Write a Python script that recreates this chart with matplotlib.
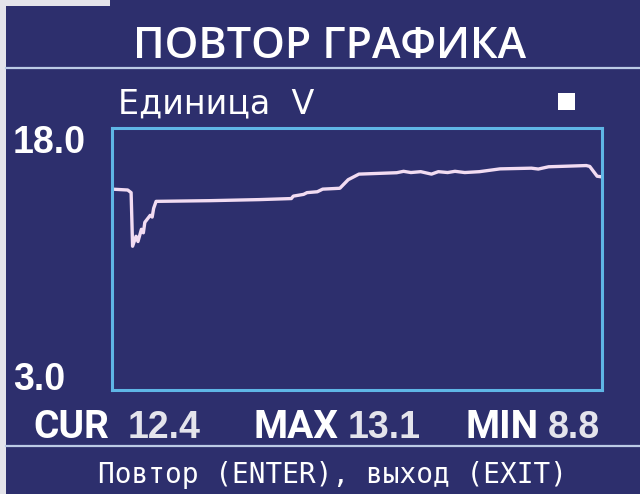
import matplotlib
matplotlib.use("Agg")
import matplotlib.pyplot as plt
from matplotlib.patches import Rectangle

# screen readout
title = "ПОВТОР ГРАФИКА"
unit_label = "Единица  V"
y_max_label = "18.0"
y_min_label = "3.0"
stat_names = ["CUR", "MAX", "MIN"]
stat_values = ["12.4", "13.1", "8.8"]
footer = "Повтор (ENTER), выход (EXIT)"

# recorded trace (position in % of record, volts as drawn)
t = [0, 3.2, 3.9, 4.2, 4.9, 5.3, 6.0, 6.4, 6.7, 7.8, 8.2, 8.5, 9.0,
     20, 30, 36.6, 37.0, 39.1, 39.8, 41.9, 43.0, 46.5, 48.2, 49.3, 50.4,
     58.1, 59.5, 61, 63, 65.2, 66.6, 68.5, 70, 72, 75.0, 79.2, 85.6, 87,
     89.1, 96.8, 97.5, 99.0, 100]
v = [14.50, 14.45, 14.30, 11.23, 11.8, 11.5, 12.2, 12.0, 12.6, 13.0, 12.9,
     13.4, 13.8, 13.84, 13.9, 13.96, 14.1, 14.2, 14.3, 14.35, 14.5, 14.55,
     15.04, 15.2, 15.36, 15.44, 15.52, 15.45, 15.5, 15.36, 15.5, 15.45,
     15.52, 15.45, 15.5, 15.66, 15.70, 15.65, 15.78, 15.85, 15.8, 15.24,
     15.2]

bg = "#2d2f6d"
frame = "#5fb6e6"
trace = "#f2dcf2"
W, H = 640, 494


def fy(py):
    return 1 - py / H


fig = plt.figure(figsize=(6.4, 4.94), dpi=100)
fig.patch.set_facecolor(bg)

# photo edge (light border top-left / left)
fig.add_artist(Rectangle((0, fy(6)), 110 / W, 6 / H, transform=fig.transFigure,
                         color="#e4e4ea", lw=0))
fig.add_artist(Rectangle((0, 0), 6 / W, 1, transform=fig.transFigure,
                         color="#e4e4ea", lw=0))

# separators
fig.add_artist(plt.Line2D([6 / W, 1], [fy(68)] * 2, color="#bccbe6", lw=1.6))
fig.add_artist(plt.Line2D([6 / W, 1], [fy(446)] * 2, color="#bccbe6", lw=1.6))

fig.text(0.515, fy(58), title, ha="center", va="baseline", color="white",
         fontsize=31, family="Open Sans", fontweight="semibold")
fig.text(118 / W, fy(113), unit_label, ha="left", va="baseline", color="white",
         fontsize=24, family="DejaVu Sans")
fig.add_artist(Rectangle((558 / W, fy(110)), 17 / W, 17 / H,
                         transform=fig.transFigure, color="white", lw=0))
fig.text(13 / W, fy(153), y_max_label, ha="left", va="baseline", color="white",
         fontsize=27, family="Liberation Sans", fontweight="bold")
fig.text(13 / W, fy(390), y_min_label, ha="left", va="baseline", color="white",
         fontsize=27, family="Liberation Sans", fontweight="bold")

name_x = [33, 253, 466]
val_x = [128, 348, 548]
for nx, vx, n, s in zip(name_x, val_x, stat_names, stat_values):
    fig.text(nx / W, fy(438), n, ha="left", va="baseline", color="white",
             fontsize=28, family="Roboto", fontweight="bold")
    fig.text(vx / W, fy(438), s, ha="left", va="baseline", color="#e4e4ec",
             fontsize=27, family="Liberation Sans", fontweight="bold")

fig.text(332 / W, fy(483), footer, ha="center", va="baseline", color="white",
         fontsize=20, family="DejaVu Sans Mono")

ax = fig.add_axes([112 / W, fy(390), 490 / W, 262 / H])
ax.set_facecolor(bg)
ax.plot(t, v, color=trace, lw=2.4)
ax.set_xlim(0, 100)
ax.set_ylim(3.0, 18.0)
ax.set_xticks([])
ax.set_yticks([])
for sp in ax.spines.values():
    sp.set_color(frame)
    sp.set_linewidth(2.2)

fig.savefig("out.png", dpi=100, facecolor=bg)
